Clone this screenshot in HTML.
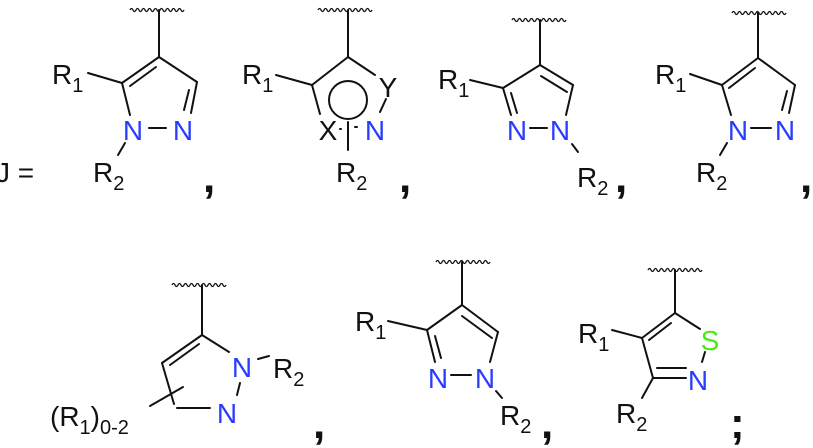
<!DOCTYPE html>
<html><head><meta charset="utf-8"><style>
html,body{margin:0;padding:0;background:#fff;}
svg{display:block;}
</style></head><body>
<svg width="813" height="448" viewBox="0 0 813 448" xmlns="http://www.w3.org/2000/svg">
<defs>
<path id="w" d="M0,0 q1.5,-3 3,0 t3,0 t3,0 t3,0 t3,0 t3,0 t3,0 t3,0 t3,0 t3,0 t3,0 t3,0 t3,0 t3,0 t3,0 t3,0 t3,0 t3,0" fill="none" stroke="#111" stroke-width="1.3"/>
</defs>
<g stroke="#111" stroke-width="2" fill="none" stroke-linecap="round">
<!-- S1 -->
<line x1="159" y1="10" x2="159" y2="57"/>
<line x1="159" y1="57" x2="122" y2="83"/>
<line x1="156" y1="67" x2="130" y2="86"/>
<line x1="159" y1="57" x2="197" y2="82"/>
<line x1="122" y1="83" x2="130" y2="115"/>
<line x1="197" y1="82" x2="191" y2="113"/>
<line x1="189" y1="90" x2="184" y2="110"/>
<line x1="149" y1="128" x2="166" y2="128"/>
<line x1="88" y1="73" x2="122" y2="83"/>
<line x1="125" y1="143" x2="118" y2="155"/>
<!-- S2 -->
<line x1="348" y1="10" x2="348" y2="57"/>
<line x1="348" y1="57" x2="312" y2="85"/>
<line x1="348" y1="57" x2="375" y2="75"/>
<line x1="312" y1="85" x2="320" y2="114"/>
<line x1="386" y1="99" x2="380" y2="112"/>
<line x1="276" y1="75" x2="312" y2="85"/>
<circle cx="348" cy="100" r="19"/>
<line x1="348" y1="122" x2="348" y2="150"/>
<line x1="340" y1="129" x2="341" y2="129"/>
<line x1="355" y1="127" x2="357" y2="127"/>
<!-- S3 -->
<line x1="540" y1="20" x2="540" y2="65"/>
<line x1="540" y1="65" x2="503" y2="88"/>
<line x1="540" y1="65" x2="573" y2="85"/>
<line x1="541" y1="76" x2="567" y2="92"/>
<line x1="503" y1="88" x2="511" y2="115"/>
<line x1="511" y1="93" x2="517" y2="113"/>
<line x1="573" y1="85" x2="566" y2="115"/>
<line x1="530" y1="128" x2="547" y2="128"/>
<line x1="470" y1="80" x2="503" y2="88"/>
<line x1="572" y1="144" x2="578" y2="152"/>
<!-- S4 -->
<line x1="758" y1="13" x2="758" y2="58"/>
<line x1="758" y1="58" x2="722" y2="85"/>
<line x1="755" y1="68" x2="729" y2="88"/>
<line x1="758" y1="58" x2="795" y2="85"/>
<line x1="722" y1="85" x2="731" y2="115"/>
<line x1="795" y1="85" x2="789" y2="113"/>
<line x1="787" y1="91" x2="782" y2="110"/>
<line x1="751" y1="128" x2="771" y2="128"/>
<line x1="690" y1="74" x2="722" y2="85"/>
<line x1="727" y1="143" x2="720" y2="155"/>
<!-- S5 -->
<line x1="202" y1="285" x2="202" y2="335"/>
<line x1="202" y1="335" x2="162" y2="363"/>
<line x1="199" y1="344" x2="170" y2="365"/>
<line x1="202" y1="335" x2="229" y2="352"/>
<line x1="162" y1="363" x2="174" y2="404"/>
<line x1="177" y1="408" x2="210" y2="408"/>
<line x1="240" y1="383" x2="237" y2="395"/>
<line x1="258" y1="359" x2="269" y2="356"/>
<line x1="150" y1="406" x2="183" y2="387"/>
<!-- S6 -->
<line x1="462" y1="262" x2="462" y2="305"/>
<line x1="462" y1="305" x2="427" y2="330"/>
<line x1="462" y1="305" x2="498" y2="332"/>
<line x1="462" y1="316" x2="492" y2="338"/>
<line x1="427" y1="330" x2="435" y2="362"/>
<line x1="435" y1="336" x2="441" y2="358"/>
<line x1="498" y1="332" x2="490" y2="362"/>
<line x1="451" y1="375" x2="471" y2="375"/>
<line x1="388" y1="321" x2="427" y2="330"/>
<line x1="496" y1="391" x2="502" y2="398"/>
<!-- S7 -->
<line x1="675" y1="270" x2="675" y2="313"/>
<line x1="675" y1="313" x2="642" y2="338"/>
<line x1="671" y1="323" x2="649" y2="340"/>
<line x1="675" y1="313" x2="700" y2="329"/>
<line x1="642" y1="338" x2="653" y2="378"/>
<line x1="653" y1="378" x2="686" y2="378"/>
<line x1="657" y1="368" x2="686" y2="368"/>
<line x1="705" y1="352" x2="702" y2="362"/>
<line x1="612" y1="330" x2="642" y2="338"/>
<line x1="653" y1="378" x2="642" y2="398"/>
</g>
<use href="#w" x="130" y="10"/>
<use href="#w" x="318" y="10"/>
<use href="#w" x="512" y="20"/>
<use href="#w" x="732" y="13"/>
<use href="#w" x="172" y="285"/>
<use href="#w" x="436" y="262"/>
<use href="#w" x="648" y="270"/>

<g font-family="Liberation Sans, Arial, sans-serif" font-size="28" fill="#111">
<text x="-4" y="182">J =</text>
<text x="52" y="84">R<tspan font-size="20" dy="8">1</tspan></text>
<text x="93" y="182">R<tspan font-size="20" dy="8">2</tspan></text>
<text x="242" y="84">R<tspan font-size="20" dy="8">1</tspan></text>
<text x="388" y="97" text-anchor="middle">Y</text>
<text x="328" y="140" text-anchor="middle">X</text>
<text x="336" y="182">R<tspan font-size="20" dy="8">2</tspan></text>
<text x="438" y="89">R<tspan font-size="20" dy="8">1</tspan></text>
<text x="577" y="187">R<tspan font-size="20" dy="8">2</tspan></text>
<text x="655" y="84">R<tspan font-size="20" dy="8">1</tspan></text>
<text x="696" y="182">R<tspan font-size="20" dy="8">2</tspan></text>
<text x="50" y="426">(R<tspan font-size="20" dy="8">1</tspan><tspan dy="-8">)</tspan><tspan font-size="20" dy="8">0-2</tspan></text>
<text x="273" y="378">R<tspan font-size="20" dy="8">2</tspan></text>
<text x="355" y="331">R<tspan font-size="20" dy="8">1</tspan></text>
<text x="500" y="425">R<tspan font-size="20" dy="8">2</tspan></text>
<text x="578" y="343">R<tspan font-size="20" dy="8">1</tspan></text>
<text x="616" y="423">R<tspan font-size="20" dy="8">2</tspan></text>
</g>
<g font-family="Liberation Sans, Arial, sans-serif" font-size="28" fill="#2a3cff" text-anchor="middle">
<text x="133" y="140">N</text>
<text x="183" y="140">N</text>
<text x="375" y="140">N</text>
<text x="517" y="140">N</text>
<text x="560" y="140">N</text>
<text x="738" y="140">N</text>
<text x="785" y="140">N</text>
<text x="242" y="377">N</text>
<text x="227" y="423">N</text>
<text x="438" y="388">N</text>
<text x="485" y="388">N</text>
<text x="698" y="390">N</text>
</g>
<text x="710" y="350" text-anchor="middle" font-family="Liberation Sans, Arial, sans-serif" font-size="28" fill="#44ee11">S</text>
<g font-family="Liberation Sans, Arial, sans-serif" font-size="44" font-weight="bold" fill="#111">
<text x="203" y="192">,</text>
<text x="399" y="192">,</text>
<text x="615" y="192">,</text>
<text x="800" y="192">,</text>
<text x="313" y="438">,</text>
<text x="541" y="438">,</text>
<text x="730" y="438">;</text>
</g>
</svg>
</body></html>
